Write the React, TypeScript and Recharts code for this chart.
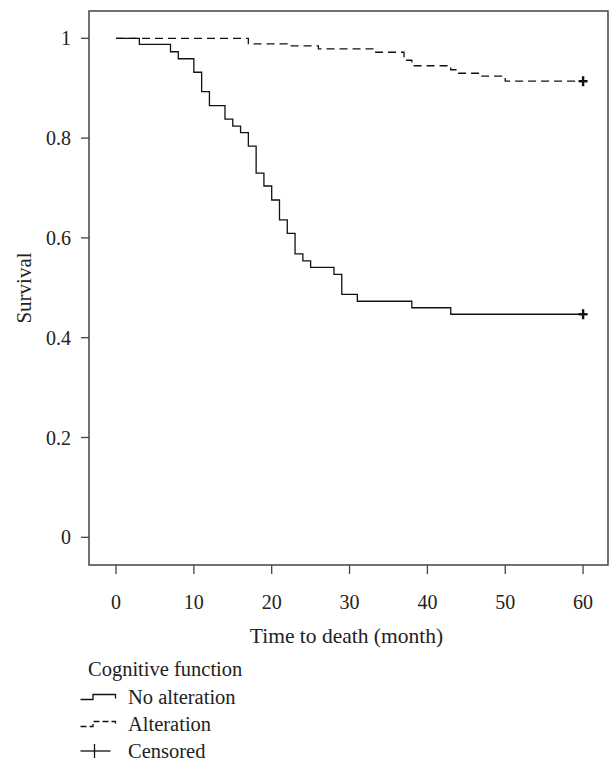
import React from 'react';
import {
  ComposedChart,
  Line,
  Scatter,
  XAxis,
  YAxis,
  ReferenceArea,
  Customized,
} from 'recharts';

// ---- data ----
const noAltTimes = [0, 3, 7, 8, 10, 11, 12, 14, 15, 16, 17, 18, 19, 20, 21, 22, 23, 24, 25, 28, 29, 31, 38, 43, 60];
const noAltSurvival = [1, 0.988, 0.973, 0.959, 0.932, 0.893, 0.865, 0.838, 0.824, 0.811, 0.784, 0.73, 0.704, 0.676, 0.636, 0.609, 0.568, 0.554, 0.541, 0.527, 0.487, 0.473, 0.46, 0.447, 0.447];
const altTimes = [0, 17, 22, 26, 33, 37, 38, 43, 44, 47, 50, 60];
const altSurvival = [1, 0.989, 0.985, 0.979, 0.972, 0.956, 0.945, 0.937, 0.93, 0.924, 0.914, 0.914];
const censoredTimes = [60, 60];
const censoredSurvival = [0.447, 0.914];
const xTicks = [0, 10, 20, 30, 40, 50, 60];
const yTicks = [0, 0.2, 0.4, 0.6, 0.8, 1];
const xTitle = 'Time to death (month)';
const yTitle = 'Survival';
const legendTitle = 'Cognitive function';
const legendItems = ['No alteration', 'Alteration', 'Censored'];

const X_DOMAIN: [number, number] = [-3.47, 63.2];
const Y_DOMAIN: [number, number] = [-0.0555, 1.0547];

const noAltData = noAltTimes.map((t, i) => ({ t, s: noAltSurvival[i] }));
const altData = altTimes.map((t, i) => ({ t, s: altSurvival[i] }));
const censoredData = censoredTimes.map((t, i) => ({ t, s: censoredSurvival[i] }));

const FONT = "'Liberation Serif', 'Times New Roman', serif";
const TEXT = '#222';
const FRAME = '#444';
const LINE = '#111';

const tickStyle = { fontFamily: FONT, fontSize: 20, fill: TEXT };

const PlusShape = (props: any) => {
  const { cx, cy } = props;
  if (cx == null || cy == null) return <g />;
  return (
    <g>
      <line x1={cx - 4.5} x2={cx + 4.5} y1={cy} y2={cy} stroke={LINE} strokeWidth={2.4} />
      <line x1={cx} x2={cx} y1={cy - 5} y2={cy + 5} stroke={LINE} strokeWidth={2.4} />
    </g>
  );
};

const LegendBlock = () => {
  const x0 = 88;
  const iconL = 80.5;
  const textX = 128;
  const titleY = 669;
  const rowY = [697, 724, 751];
  return (
    <g fontFamily={FONT} fontSize={20.5} fill={TEXT}>
      <text x={x0} y={titleY} dominantBaseline="central">{legendTitle}</text>
      {/* No alteration */}
      <path
        d={`M${iconL},${rowY[0] + 2.5} H${iconL + 12.5} V${rowY[0] - 2.5} H${iconL + 35} V${rowY[0] + 1.5}`}
        fill="none"
        stroke={LINE}
        strokeWidth={1.3}
      />
      <text x={textX} y={rowY[0]} dominantBaseline="central">{legendItems[0]}</text>
      {/* Alteration */}
      <path
        d={`M${iconL},${rowY[1] + 2.5} H${iconL + 12.5} V${rowY[1] - 2.5} H${iconL + 35} V${rowY[1] + 1.5}`}
        fill="none"
        stroke={LINE}
        strokeWidth={1.3}
        strokeDasharray="6 3"
      />
      <text x={textX} y={rowY[1]} dominantBaseline="central">{legendItems[1]}</text>
      {/* Censored */}
      <line x1={iconL} x2={iconL + 30} y1={rowY[2]} y2={rowY[2]} stroke={LINE} strokeWidth={1.3} />
      <line x1={iconL + 14} x2={iconL + 14} y1={rowY[2] - 7} y2={rowY[2] + 7} stroke={LINE} strokeWidth={1.3} />
      <text x={textX} y={rowY[2]} dominantBaseline="central">{legendItems[2]}</text>
    </g>
  );
};

export default function App() {
  return (
    <div style={{ position: 'absolute', left: 0, top: 0, width: 615, height: 761, background: '#fff' }}>
      <ComposedChart
        width={615}
        height={761}
        margin={{ top: 11, right: 7, bottom: 136, left: 0 }}
      >
        <XAxis
          type="number"
          dataKey="t"
          domain={X_DOMAIN}
          ticks={xTicks}
          allowDataOverflow
          axisLine={false}
          tickLine={{ stroke: FRAME, strokeWidth: 1.3 }}
          tickSize={9}
          tickMargin={21}
          tick={tickStyle}
          height={60}
          label={(p: any) => {
            const vb = p.viewBox || {};
            const cx = (vb.x ?? 89) + (vb.width ?? 519) / 2 - 2;
            return (
              <text x={cx} y={643} textAnchor="middle" fontFamily={FONT} fontSize={21.5} fill={TEXT}>
                {xTitle}
              </text>
            );
          }}
        />
        <YAxis
          type="number"
          dataKey="s"
          domain={Y_DOMAIN}
          ticks={yTicks}
          allowDataOverflow
          axisLine={false}
          tickLine={{ stroke: FRAME, strokeWidth: 1.3 }}
          tickSize={8}
          tickMargin={10}
          tick={tickStyle}
          width={89}
          tickFormatter={(v: number) => String(v)}
          label={(p: any) => {
            const vb = p.viewBox || {};
            const cy = (vb.y ?? 11) + (vb.height ?? 554) / 2;
            const cx = 31;
            return (
              <text
                x={cx}
                y={cy}
                textAnchor="middle"
                transform={`rotate(-90, ${cx}, ${cy})`}
                fontFamily={FONT}
                fontSize={21}
                fill={TEXT}
              >
                {yTitle}
              </text>
            );
          }}
        />
        <ReferenceArea
          x1={X_DOMAIN[0]}
          x2={X_DOMAIN[1]}
          y1={Y_DOMAIN[0]}
          y2={Y_DOMAIN[1]}
          fill="none"
          fillOpacity={0}
          stroke={FRAME}
          strokeWidth={1.5}
          ifOverflow="visible"
        />
        <Line
          data={noAltData}
          dataKey="s"
          type="stepAfter"
          stroke={LINE}
          strokeWidth={1.3}
          dot={false}
          activeDot={false}
          isAnimationActive={false}
        />
        <Line
          data={altData}
          dataKey="s"
          type="stepAfter"
          stroke={LINE}
          strokeWidth={1.3}
          strokeDasharray="8 5"
          dot={false}
          activeDot={false}
          isAnimationActive={false}
        />
        <Scatter
          data={censoredData}
          dataKey="s"
          shape={<PlusShape />}
          isAnimationActive={false}
        />
        <Customized component={<LegendBlock />} />
      </ComposedChart>
    </div>
  );
}
